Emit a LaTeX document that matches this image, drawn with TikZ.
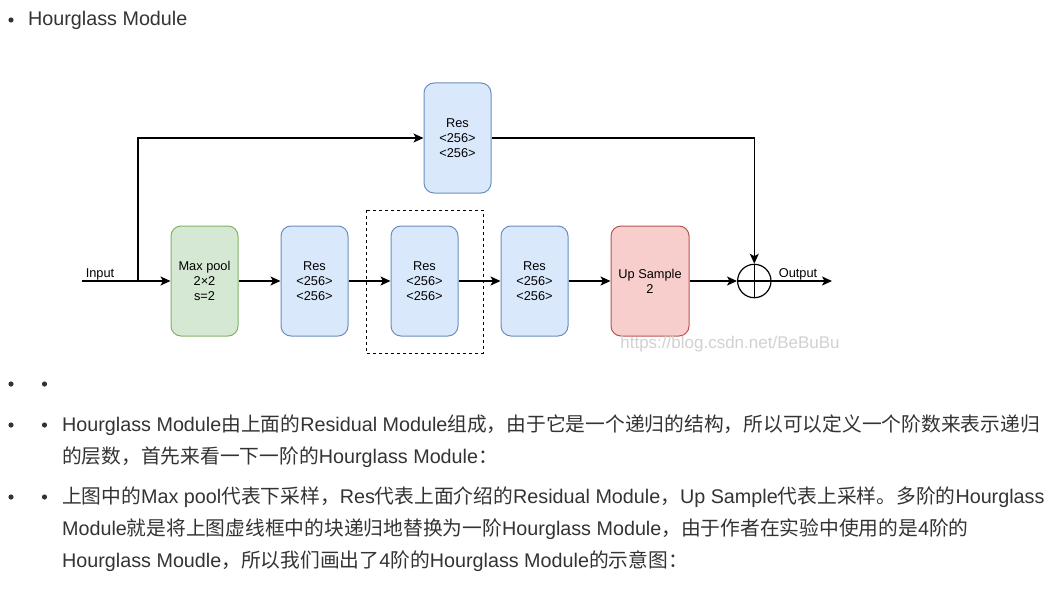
\documentclass[tikz,border=0pt]{standalone}
\usepackage{fontspec}
\setmainfont{Liberation Sans}
\newfontfamily\cjk{Noto Sans CJK SC}
\usetikzlibrary{arrows.meta}

\definecolor{resfill}{HTML}{DAE8FC}
\definecolor{resline}{HTML}{6C8EBF}
\definecolor{poolfill}{HTML}{D5E8D4}
\definecolor{poolline}{HTML}{82B366}
\definecolor{upfill}{HTML}{F8CECC}
\definecolor{upline}{HTML}{B85450}
\definecolor{txt}{HTML}{333333}

\newcommand{\zh}[1]{{\cjk #1}}

\tikzset{
    blk/.style={draw, rounded corners=10pt, minimum width=67pt, minimum height=110pt,
        align=center, inner sep=0pt, line width=1pt,
        font=\fontsize{12.8}{15}\selectfont},
    resbox/.style={blk, fill=resfill, draw=resline},
    poolbox/.style={blk, fill=poolfill, draw=poolline},
    upbox/.style={blk, fill=upfill, draw=upline, minimum width=78pt},
    wire/.style={line width=1.2pt, -{Stealth[length=10pt,width=9pt,inset=2.5pt]}},
    lbl/.style={inner sep=0pt, font=\fontsize{12.8}{15}\selectfont},
    para/.style={anchor=west, inner sep=0pt, text=txt, font=\fontsize{19.75}{22}\selectfont},
    dot/.style={fill=txt}
}

\begin{document}
\begin{tikzpicture}[x=1pt, y=-1pt]

            \useasboundingbox (0,0) rectangle (1062,591);

            % heading
            \fill[dot] (11,20) circle (2.6);
            \node[para] (title) at (28,20) {Hourglass Module};

            % blocks
            \node[resbox] (restop) at (457.5,138) {Res\\<256>\\<256>};
            \node[poolbox] (pool) at (204.5,281) {Max pool\\2×2\\s=2};
            \node[resbox] (resa) at (314.5,281) {Res\\<256>\\<256>};
            \node[resbox] (resb) at (424.5,281) {Res\\<256>\\<256>};
            \node[resbox] (resc) at (534.5,281) {Res\\<256>\\<256>};
            \node[upbox] (up) at (650,281) {Up Sample\\2};

            \draw[dashed, line width=1pt] (366,210) rectangle (483,353);

            \node[draw, circle, line width=1.2pt, minimum size=33.4pt, inner sep=0pt] (sum) at (754.3,281) {};
            \draw[line width=1.2pt] (sum.north) -- (sum.south);
            \draw[line width=1.2pt] (sum.west) -- (sum.east);

            \coordinate (in) at (82,281);
            \coordinate (split) at (138,281);
            \coordinate (out) at (832,281);

            \node[lbl] (inlbl) at (100,274) {Input};
            \node[lbl] (outlbl) at (798,274) {Output};

            % connectors
            \draw[wire] (in) -- (pool);
            \draw[wire] (split) |- (restop);
            \draw[wire] (pool) -- (resa);
            \draw[wire] (resa) -- (resb);
            \draw[wire] (resb) -- (resc);
            \draw[wire] (resc) -- (up);
            \draw[wire] (up) -- (sum);
            \draw[wire] (restop.east) -| (sum.north);
            \draw[wire] (sum.east) -- (out);

            \node[text=black!18, inner sep=0pt, font=\fontsize{17}{20}\selectfont] (mark) at (730,344) {https://blog.csdn.net/BeBuBu};

            % bullet list
            \fill[dot] (11,384) circle (2.6);
            \fill[dot] (44.5,384) circle (2.6);
            \fill[dot] (11,425) circle (2.6);
            \fill[dot] (44.5,425) circle (2.6);
            \fill[dot] (11,497) circle (2.6);
            \fill[dot] (44.5,497) circle (2.6);

            \node[para] (linea) at (62,425) {Hourglass Module\zh{由上面的}Residual Module\zh{组成，由于它是一个递归的结构，所以可以定义一个阶数来表示递归}};
            \node[para] (lineb) at (62,457) {\zh{的层数，首先来看一下一阶的}Hourglass Module\zh{：}};
            \node[para] (linec) at (62,497) {\zh{上图中的}Max pool\zh{代表下采样，}Res\zh{代表上面介绍的}Residual Module\zh{，}Up Sample\zh{代表上采样。多阶的}Hourglass};
            \node[para] (lined) at (62,529) {Module\zh{就是将上图虚线框中的块递归地替换为一阶}Hourglass Module\zh{，由于作者在实验中使用的是}4\zh{阶的}};
            \node[para] (linee) at (62,561) {Hourglass Moudle\zh{，所以我们画出了}4\zh{阶的}Hourglass Module\zh{的示意图：}};
        \end{tikzpicture}
\end{document}
